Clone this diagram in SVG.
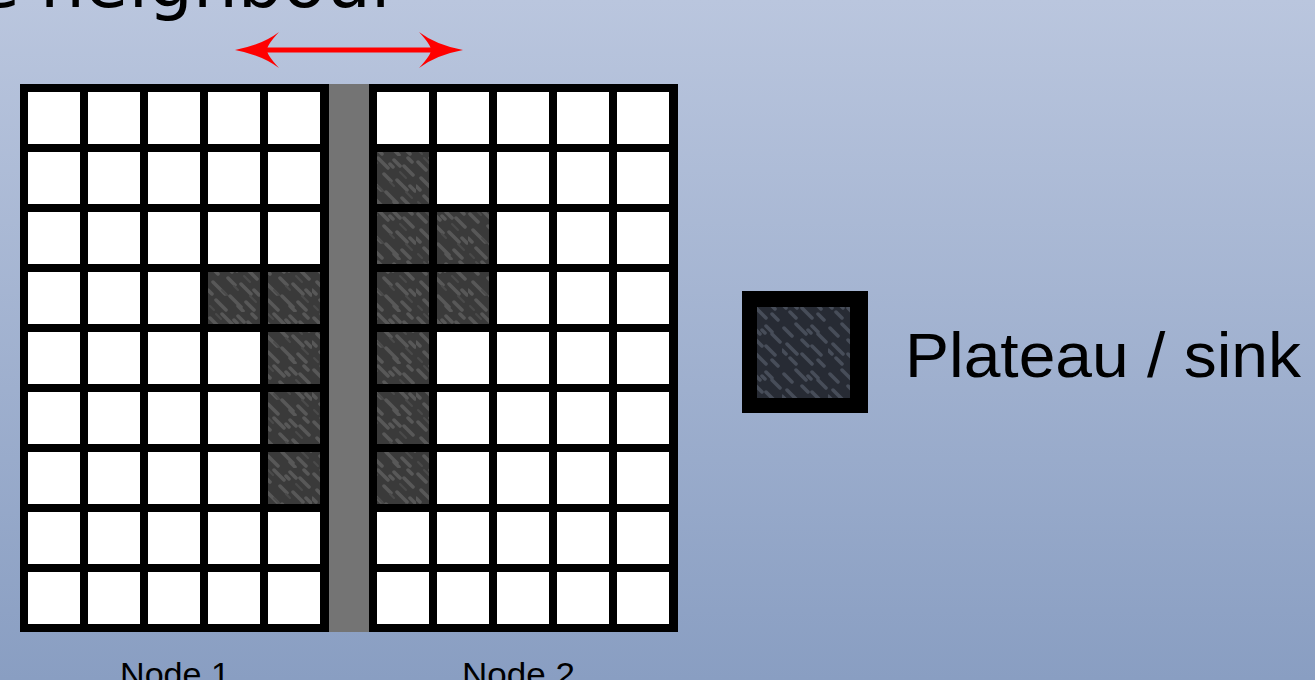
<svg xmlns="http://www.w3.org/2000/svg" width="1315" height="680" viewBox="0 0 1315 680">
  <defs>
    <linearGradient id="bg" x1="0" y1="0" x2="0" y2="1">
      <stop offset="0" stop-color="#bac6de"/>
      <stop offset="1" stop-color="#899ec2"/>
    </linearGradient>
    <pattern id="rock" width="52" height="52" patternUnits="userSpaceOnUse">
      <rect width="52" height="52" fill="#3a3a3a"/>
      <g stroke="#585858" stroke-width="3.5" stroke-linecap="round" fill="none">
        <path d="M2,6 l8,8 M14,2 l10,10 M30,4 l6,6 M40,10 l9,9 M5,22 l12,12 M20,18 l7,7 M33,24 l10,10 M46,30 l5,5 M8,40 l7,7 M22,36 l11,11 M38,42 l8,8 M0,30 l4,4 M26,8 l3,3 M44,2 l4,4 M14,46 l4,4 M30,46 l5,5"/>
      </g>
      <g stroke="#4a4a4a" stroke-width="2" stroke-linecap="round" fill="none">
        <path d="M8,2 l5,5 M36,16 l6,6 M14,30 l5,5 M42,36 l6,6 M2,46 l4,4 M26,26 l4,4"/>
      </g>
    </pattern>
    <pattern id="rockblue" width="46" height="46" patternUnits="userSpaceOnUse">
      <rect width="46" height="46" fill="#272b34"/>
      <g stroke="#474d59" stroke-width="3.5" stroke-linecap="round" fill="none">
        <path d="M2,6 l8,8 M14,2 l10,10 M30,4 l6,6 M36,12 l8,8 M5,22 l10,10 M20,18 l6,6 M30,24 l9,9 M8,36 l6,6 M20,32 l10,10 M36,38 l6,6 M0,28 l4,4 M26,8 l3,3"/>
      </g>
    </pattern>
    <style>
      .frame { fill: #000000; }
      .cell { fill: #ffffff; }
      .sink { fill: url(#rock); }
      .gap { fill: #747474; }
      .label { font-family: "Liberation Sans", Arial, sans-serif; fill: #000000; }
      .title { font-family: "DejaVu Sans", sans-serif; font-weight: normal; fill: #000000; }
      .arrow { fill: #ff0000; }
      .arrowline { stroke: #ff0000; stroke-width: 5; fill: none; }
    </style>
  </defs>

  <rect width="1315" height="680" fill="url(#bg)"/>

  <text class="title" y="7" font-size="70"><tspan x="-95">the</tspan><tspan x="40" textLength="360" lengthAdjust="spacingAndGlyphs">neighbour</tspan></text>

  <g id="gap">
    <rect class="gap" x="329" y="84" width="40" height="548"/>
  </g>

  <g id="node1">
    <rect class="frame" x="20" y="84" width="309" height="548"/>
    <g>
      <rect class="cell" x="28" y="92" width="52" height="52"/><rect class="cell" x="88" y="92" width="52" height="52"/><rect class="cell" x="148" y="92" width="52" height="52"/><rect class="cell" x="208" y="92" width="52" height="52"/><rect class="cell" x="268" y="92" width="52" height="52"/>
      <rect class="cell" x="28" y="152" width="52" height="52"/><rect class="cell" x="88" y="152" width="52" height="52"/><rect class="cell" x="148" y="152" width="52" height="52"/><rect class="cell" x="208" y="152" width="52" height="52"/><rect class="cell" x="268" y="152" width="52" height="52"/>
      <rect class="cell" x="28" y="212" width="52" height="52"/><rect class="cell" x="88" y="212" width="52" height="52"/><rect class="cell" x="148" y="212" width="52" height="52"/><rect class="cell" x="208" y="212" width="52" height="52"/><rect class="cell" x="268" y="212" width="52" height="52"/>
      <rect class="cell" x="28" y="272" width="52" height="52"/><rect class="cell" x="88" y="272" width="52" height="52"/><rect class="cell" x="148" y="272" width="52" height="52"/><rect class="sink" x="208" y="272" width="52" height="52"/><rect class="sink" x="268" y="272" width="52" height="52"/>
      <rect class="cell" x="28" y="332" width="52" height="52"/><rect class="cell" x="88" y="332" width="52" height="52"/><rect class="cell" x="148" y="332" width="52" height="52"/><rect class="cell" x="208" y="332" width="52" height="52"/><rect class="sink" x="268" y="332" width="52" height="52"/>
      <rect class="cell" x="28" y="392" width="52" height="52"/><rect class="cell" x="88" y="392" width="52" height="52"/><rect class="cell" x="148" y="392" width="52" height="52"/><rect class="cell" x="208" y="392" width="52" height="52"/><rect class="sink" x="268" y="392" width="52" height="52"/>
      <rect class="cell" x="28" y="452" width="52" height="52"/><rect class="cell" x="88" y="452" width="52" height="52"/><rect class="cell" x="148" y="452" width="52" height="52"/><rect class="cell" x="208" y="452" width="52" height="52"/><rect class="sink" x="268" y="452" width="52" height="52"/>
      <rect class="cell" x="28" y="512" width="52" height="52"/><rect class="cell" x="88" y="512" width="52" height="52"/><rect class="cell" x="148" y="512" width="52" height="52"/><rect class="cell" x="208" y="512" width="52" height="52"/><rect class="cell" x="268" y="512" width="52" height="52"/>
      <rect class="cell" x="28" y="572" width="52" height="52"/><rect class="cell" x="88" y="572" width="52" height="52"/><rect class="cell" x="148" y="572" width="52" height="52"/><rect class="cell" x="208" y="572" width="52" height="52"/><rect class="cell" x="268" y="572" width="52" height="52"/>
    </g>
    <text class="label" x="120" y="686" font-size="34" textLength="110" lengthAdjust="spacingAndGlyphs">Node 1</text>
  </g>

  <g id="node2">
    <rect class="frame" x="369" y="84" width="309" height="548"/>
    <g>
      <rect class="cell" x="377" y="92" width="52" height="52"/><rect class="cell" x="437" y="92" width="52" height="52"/><rect class="cell" x="497" y="92" width="52" height="52"/><rect class="cell" x="557" y="92" width="52" height="52"/><rect class="cell" x="617" y="92" width="52" height="52"/>
      <rect class="sink" x="377" y="152" width="52" height="52"/><rect class="cell" x="437" y="152" width="52" height="52"/><rect class="cell" x="497" y="152" width="52" height="52"/><rect class="cell" x="557" y="152" width="52" height="52"/><rect class="cell" x="617" y="152" width="52" height="52"/>
      <rect class="sink" x="377" y="212" width="52" height="52"/><rect class="sink" x="437" y="212" width="52" height="52"/><rect class="cell" x="497" y="212" width="52" height="52"/><rect class="cell" x="557" y="212" width="52" height="52"/><rect class="cell" x="617" y="212" width="52" height="52"/>
      <rect class="sink" x="377" y="272" width="52" height="52"/><rect class="sink" x="437" y="272" width="52" height="52"/><rect class="cell" x="497" y="272" width="52" height="52"/><rect class="cell" x="557" y="272" width="52" height="52"/><rect class="cell" x="617" y="272" width="52" height="52"/>
      <rect class="sink" x="377" y="332" width="52" height="52"/><rect class="cell" x="437" y="332" width="52" height="52"/><rect class="cell" x="497" y="332" width="52" height="52"/><rect class="cell" x="557" y="332" width="52" height="52"/><rect class="cell" x="617" y="332" width="52" height="52"/>
      <rect class="sink" x="377" y="392" width="52" height="52"/><rect class="cell" x="437" y="392" width="52" height="52"/><rect class="cell" x="497" y="392" width="52" height="52"/><rect class="cell" x="557" y="392" width="52" height="52"/><rect class="cell" x="617" y="392" width="52" height="52"/>
      <rect class="sink" x="377" y="452" width="52" height="52"/><rect class="cell" x="437" y="452" width="52" height="52"/><rect class="cell" x="497" y="452" width="52" height="52"/><rect class="cell" x="557" y="452" width="52" height="52"/><rect class="cell" x="617" y="452" width="52" height="52"/>
      <rect class="cell" x="377" y="512" width="52" height="52"/><rect class="cell" x="437" y="512" width="52" height="52"/><rect class="cell" x="497" y="512" width="52" height="52"/><rect class="cell" x="557" y="512" width="52" height="52"/><rect class="cell" x="617" y="512" width="52" height="52"/>
      <rect class="cell" x="377" y="572" width="52" height="52"/><rect class="cell" x="437" y="572" width="52" height="52"/><rect class="cell" x="497" y="572" width="52" height="52"/><rect class="cell" x="557" y="572" width="52" height="52"/><rect class="cell" x="617" y="572" width="52" height="52"/>
    </g>
    <text class="label" x="462" y="686" font-size="34" textLength="113" lengthAdjust="spacingAndGlyphs">Node 2</text>
  </g>

  <g id="legend">
    <rect class="frame" x="742" y="291" width="126" height="122"/>
    <rect x="757" y="307" width="93" height="91" fill="url(#rockblue)"/>
    <text class="label" x="905" y="377" font-size="63" textLength="396" lengthAdjust="spacingAndGlyphs">Plateau / sink</text>
  </g>

  <g id="connectors">
    <line class="arrowline" x1="262" y1="50" x2="436" y2="50"/>
    <path class="arrow" d="M235,50 Q262,45 279,32 Q267,45 267,50 Q267,55 279,68 Q262,55 235,50 Z"/>
    <path class="arrow" d="M463,50 Q436,45 419,32 Q431,45 431,50 Q431,55 419,68 Q436,55 463,50 Z"/>
  </g>
</svg>
